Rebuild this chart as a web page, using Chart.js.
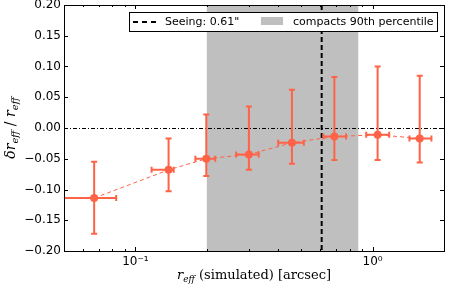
<!DOCTYPE html>
<html>
<head>
<meta charset="utf-8">
<script src="https://cdn.jsdelivr.net/npm/chart.js@4.4.1/dist/chart.umd.min.js"></script>
<style>
  html, body { margin: 0; padding: 0; background: #fff; }
  #wrap { width: 458px; height: 286px; }
</style>
</head>
<body>
<div id="wrap"><canvas id="reffPlot"></canvas></div>
<script>
// r_eff (simulated) bins and the relative error on r_eff
const reffSim = [0.067, 0.138, 0.199, 0.301, 0.457, 0.69, 1.05, 1.58]
const reffLow = [0.045, 0.117, 0.179, 0.266, 0.40, 0.62, 0.94, 1.43]
const reffHigh = [0.083, 0.145, 0.217, 0.331, 0.513, 0.773, 1.175, 1.77]
const dReff = [-0.114, -0.068, -0.050, -0.043, -0.024, -0.014, -0.011, -0.017]
const dReffLow = [-0.172, -0.103, -0.078, -0.068, -0.058, -0.052, -0.052, -0.056]
const dReffHigh = [-0.055, -0.017, 0.022, 0.035, 0.062, 0.083, 0.100, 0.085]

const seeing = 0.61
const compactsSpan = [0.2, 0.87]
const xTickValues = [0.05, 0.06, 0.07, 0.08, 0.09, 0.1, 0.2, 0.3, 0.4, 0.5, 0.6, 0.7, 0.8, 0.9, 1, 2]
const xTickLabels = {0.1: '10⁻¹', 1: '10⁰'}
const legendLabels = ['Seeing: 0.61"', 'compacts 90th percentile']

const tomato = '#ff6347'
const spanGrey = '#bfbfbf'

function drawRich(ctx, parts, x, y) {
    // parts are drawn left to right, centred on x
    let total = 0
    parts.forEach(p => { ctx.font = p.font; total += ctx.measureText(p.text).width })
    let cx = x - total / 2
    ctx.textAlign = 'left'
    ctx.textBaseline = 'alphabetic'
    parts.forEach(p => {
        ctx.font = p.font
        ctx.fillText(p.text, cx, y + (p.dy || 0))
        cx += ctx.measureText(p.text).width
    })
}

const backgroundPlugin = {
    id: 'background',
    beforeDatasetsDraw(chart) {
        const {ctx, chartArea: area, scales: {x, y}} = chart
        ctx.save()
        // shaded compacts region
        const x0 = x.getPixelForValue(compactsSpan[0])
        const x1 = x.getPixelForValue(compactsSpan[1])
        ctx.fillStyle = spanGrey
        ctx.fillRect(x0, area.top, x1 - x0, area.bottom - area.top)
        // zero line
        const y0 = y.getPixelForValue(0)
        ctx.strokeStyle = '#000'
        ctx.lineWidth = 1
        ctx.setLineDash([4, 2, 1, 2])
        ctx.beginPath()
        ctx.moveTo(area.left, Math.round(y0) + 0.5)
        ctx.lineTo(area.right, Math.round(y0) + 0.5)
        ctx.stroke()
        // seeing line
        const xs = x.getPixelForValue(seeing)
        ctx.lineWidth = 2
        ctx.setLineDash([5, 3])
        ctx.beginPath()
        ctx.moveTo(xs, area.top)
        ctx.lineTo(xs, area.bottom)
        ctx.stroke()
        ctx.restore()
    }
}

const errorBarPlugin = {
    id: 'errorBars',
    afterDatasetsDraw(chart) {
        const {ctx, chartArea: area, scales: {x, y}} = chart
        ctx.save()
        ctx.beginPath()
        ctx.rect(area.left, area.top, area.right - area.left, area.bottom - area.top)
        ctx.clip()
        ctx.strokeStyle = tomato
        ctx.lineWidth = 2
        const cap = 3
        reffSim.forEach((r, i) => {
            const px = x.getPixelForValue(r)
            const py = y.getPixelForValue(dReff[i])
            const yl = y.getPixelForValue(dReffLow[i])
            const yh = y.getPixelForValue(dReffHigh[i])
            const xl = x.getPixelForValue(reffLow[i])
            const xh = x.getPixelForValue(reffHigh[i])
            ctx.beginPath()
            ctx.moveTo(px, yl); ctx.lineTo(px, yh)
            ctx.moveTo(px - cap, yl); ctx.lineTo(px + cap, yl)
            ctx.moveTo(px - cap, yh); ctx.lineTo(px + cap, yh)
            ctx.moveTo(xl, py); ctx.lineTo(xh, py)
            ctx.moveTo(xl, py - cap); ctx.lineTo(xl, py + cap)
            ctx.moveTo(xh, py - cap); ctx.lineTo(xh, py + cap)
            ctx.stroke()
        })
        ctx.restore()
    }
}

const framePlugin = {
    id: 'frame',
    afterDraw(chart) {
        const {ctx, chartArea: area, scales: {x, y}} = chart
        ctx.save()
        ctx.strokeStyle = '#000'
        ctx.lineWidth = 1
        ctx.setLineDash([])
        ctx.beginPath()
        // inward ticks, both sides like matplotlib
        y.ticks.forEach(t => {
            const py = Math.round(y.getPixelForValue(t.value)) + 0.5
            ctx.moveTo(area.left, py); ctx.lineTo(area.left + 4, py)
            ctx.moveTo(area.right, py); ctx.lineTo(area.right - 4, py)
        })
        x.ticks.forEach(t => {
            const px = Math.round(x.getPixelForValue(t.value)) + 0.5
            const len = xTickLabels[t.value] ? 4 : 2
            ctx.moveTo(px, area.bottom); ctx.lineTo(px, area.bottom - len)
            ctx.moveTo(px, area.top); ctx.lineTo(px, area.top + len)
        })
        ctx.stroke()
        ctx.strokeRect(Math.round(area.left) + 0.5, Math.round(area.top) + 0.5,
            Math.round(area.right - area.left), Math.round(area.bottom - area.top))

        // legend box
        const lx = 129, ly = 12, lw = 308, lh = 19
        ctx.fillStyle = '#fff'
        ctx.fillRect(lx, ly, lw, lh)
        ctx.strokeRect(lx + 0.5, ly + 0.5, lw, lh)
        ctx.lineWidth = 2
        ctx.setLineDash([5, 4])
        ctx.beginPath()
        ctx.moveTo(133, 22); ctx.lineTo(156, 22)
        ctx.stroke()
        ctx.setLineDash([])
        ctx.fillStyle = spanGrey
        ctx.fillRect(261, 17, 22, 8)
        ctx.fillStyle = '#000'
        ctx.font = '11px "DejaVu Sans"'
        ctx.textBaseline = 'middle'
        ctx.fillText(legendLabels[0], 165, 22)
        ctx.fillText(legendLabels[1], 293, 22)

        // axis titles
        const mathFont = s => `italic ${s}px "DejaVu Serif"`
        drawRich(ctx, [
            {text: 'r', font: mathFont(13)},
            {text: 'eff', font: mathFont(9), dy: 3},
            {text: ' (simulated) [arcsec]', font: '13px "DejaVu Serif"'}
        ], (area.left + area.right) / 2, 279)
        ctx.save()
        ctx.translate(15, (area.top + area.bottom) / 2)
        ctx.rotate(-Math.PI / 2)
        drawRich(ctx, [
            {text: 'δr', font: mathFont(14)},
            {text: 'eff', font: mathFont(10), dy: 3},
            {text: ' / ', font: '14px "DejaVu Serif"'},
            {text: 'r', font: mathFont(14)},
            {text: 'eff', font: mathFont(10), dy: 3}
        ], 0, 0)
        ctx.restore()
        ctx.restore()
    }
}

const ctx = document.getElementById('reffPlot')
new Chart(ctx, {
    type: 'scatter',
    data: {
        datasets: [{
            data: reffSim.map((r, i) => ({x: r, y: dReff[i]})),
            showLine: true,
            borderColor: tomato,
            borderWidth: 1,
            borderDash: [4, 3],
            pointRadius: 4,
            pointBackgroundColor: tomato,
            pointBorderColor: tomato,
            pointBorderWidth: 0
        }]
    },
    options: {
        responsive: true,
        maintainAspectRatio: false,
        animation: false,
        layout: {padding: {top: 5, right: 14, left: 0, bottom: 0}},
        plugins: {legend: {display: false}, tooltip: {enabled: false}},
        scales: {
            x: {
                type: 'logarithmic',
                min: 0.05,
                max: 2,
                grid: {display: false, drawTicks: false},
                border: {display: false},
                afterBuildTicks: scale => {
                    scale.ticks = xTickValues.map(v => ({value: v, major: !!xTickLabels[v]}))
                },
                afterFit: scale => {
                    scale.height = 35
                    scale.paddingLeft = 0
                    scale.paddingRight = 0
                },
                ticks: {
                    autoSkip: false,
                    maxRotation: 0,
                    padding: 4,
                    color: '#000',
                    font: {family: 'DejaVu Sans', size: 12},
                    callback: v => xTickLabels[v] || ''
                }
            },
            y: {
                min: -0.2,
                max: 0.2,
                grid: {display: false, drawTicks: false},
                border: {display: false},
                afterFit: scale => {
                    scale.width = 64
                    scale.paddingTop = 0
                    scale.paddingBottom = 0
                },
                ticks: {
                    stepSize: 0.05,
                    padding: 3,
                    color: '#000',
                    font: {family: 'DejaVu Sans', size: 12},
                    callback: v => (v < -1e-9 ? '−' : '') + Math.abs(v).toFixed(2)
                }
            }
        }
    },
    plugins: [backgroundPlugin, errorBarPlugin, framePlugin]
})
</script>
</body>
</html>
